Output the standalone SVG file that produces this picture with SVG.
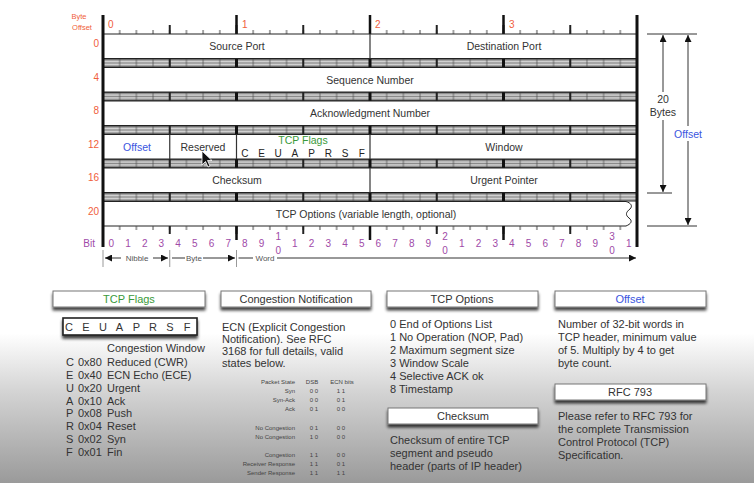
<svg xmlns="http://www.w3.org/2000/svg" width="754" height="483" viewBox="0 0 754 483">
<style>
text{font-family:"Liberation Sans",Arial,sans-serif;}
.fld{font-size:10.5px;fill:#333;text-anchor:middle;}
.off{font-size:10px;fill:#f0603c;text-anchor:end;}
.bytel{font-size:10px;fill:#f0603c;}
.bit{font-size:10px;fill:#a04aa8;text-anchor:middle;}
.unit{font-size:8px;fill:#555;text-anchor:middle;}
.hdr{font-size:11px;fill:#333;text-anchor:middle;}
.body{font-size:11px;fill:#333;}
.tb{font-size:6px;fill:#444;}
.tr{text-anchor:end;}
.tc{text-anchor:middle;}
.row{fill:#fff;stroke:#222;stroke-width:1;}
.div{stroke:#333;stroke-width:1.2;}
.edge{stroke:#111;stroke-width:3;}
.byteln{stroke:#111;stroke-width:2.5;}
.dim{stroke:#333;stroke-width:1;fill:none;}
.hbox{fill:#fff;stroke:#777;stroke-width:1;}
</style>
<defs>
<linearGradient id="bg" x1="0" y1="0" x2="0" y2="1">
<stop offset="0" stop-color="#fff"/><stop offset="0.69" stop-color="#fff"/><stop offset="0.81" stop-color="#d4d4d4"/><stop offset="1" stop-color="#9a9a9a"/>
</linearGradient>
<linearGradient id="bandg" x1="0" y1="0" x2="0" y2="1">
<stop offset="0" stop-color="#222"/><stop offset="0.15" stop-color="#888"/><stop offset="0.35" stop-color="#d8d8d8"/><stop offset="0.5" stop-color="#8a8a8a"/><stop offset="0.65" stop-color="#d8d8d8"/><stop offset="0.85" stop-color="#888"/><stop offset="1" stop-color="#222"/>
</linearGradient>
<pattern id="bitT" x="103" y="0" width="16.6875" height="483" patternUnits="userSpaceOnUse"><rect x="-0.5" y="0" width="1" height="483" fill="#444"/><rect x="16.1875" y="0" width="1" height="483" fill="#444"/></pattern>
<pattern id="nibT" x="103" y="0" width="66.75" height="483" patternUnits="userSpaceOnUse"><rect x="-1" y="0" width="2" height="483" fill="#222"/><rect x="65.75" y="0" width="2" height="483" fill="#222"/></pattern>
<g id="band">
<rect x="103" y="0" width="534" height="9" fill="url(#bandg)"/>
<rect x="103" y="0" width="534" height="9" fill="url(#bitT)" opacity="0.7"/>
<rect x="103" y="0" width="534" height="9" fill="url(#nibT)"/>
<path d="M236.5 0v9M370 0v9M503.5 0v9" stroke="#111" stroke-width="3"/>
</g>
<marker id="ah" viewBox="0 0 10 10" refX="10" refY="5" markerWidth="7" markerHeight="7" orient="auto-start-reverse" markerUnits="userSpaceOnUse"><path d="M0 0L10 5L0 10z" fill="#111"/></marker>
<filter id="sh" x="-5%" y="-40%" width="110%" height="220%">
<feGaussianBlur in="SourceAlpha" stdDeviation="1.6"/><feOffset dy="2.5"/>
<feComponentTransfer><feFuncA type="linear" slope="0.75"/></feComponentTransfer>
<feMerge><feMergeNode/><feMergeNode in="SourceGraphic"/></feMerge>
</filter>
</defs>
<rect x="0" y="0" width="754" height="483" fill="url(#bg)"/>

<g id="ruler-top">
<text x="79" y="19" style="font-size:7.5px;fill:#f0603c;text-anchor:middle">Byte</text>
<text x="82" y="30" style="font-size:7.5px;fill:#f0603c;text-anchor:middle">Offset</text>
<rect x="103" y="30" width="534" height="4" fill="url(#bitT)"/>
<rect x="103" y="25" width="534" height="9" fill="url(#nibT)"/>
<path class="byteln" d="M236.5 15v19M370 15v19M503.5 15v19"/>
<text class="bytel" x="108" y="28">0</text>
<text class="bytel" x="242" y="28">1</text>
<text class="bytel" x="375" y="28">2</text>
<text class="bytel" x="509" y="28">3</text>
</g>

<g id="offsets">
<text class="off" x="99" y="47">0</text>
<text class="off" x="99" y="80.5">4</text>
<text class="off" x="99" y="114">8</text>
<text class="off" x="99" y="147.5">12</text>
<text class="off" x="99" y="181">16</text>
<text class="off" x="99" y="214.5">20</text>
</g>

<g id="bands">
<use href="#band" y="58.5"/>
<use href="#band" y="92"/>
<use href="#band" y="125.5"/>
<use href="#band" y="159"/>
<use href="#band" y="192.5"/>
</g>

<g id="row0">
<rect class="row" x="103" y="34" width="534" height="24.5"/>
<line class="div" x1="370" y1="34" x2="370" y2="58.5"/>
<text class="fld" x="237" y="50">Source Port</text>
<text class="fld" x="504" y="50">Destination Port</text>
</g>
<g id="row4">
<rect class="row" x="103" y="67.5" width="534" height="24.5"/>
<text class="fld" x="370" y="83.5">Sequence Number</text>
</g>
<g id="row8">
<rect class="row" x="103" y="101" width="534" height="24.5"/>
<text class="fld" x="370" y="117">Acknowledgment Number</text>
</g>
<g id="row12">
<rect class="row" x="103" y="134.5" width="534" height="24.5"/>
<path class="div" d="M169.75 134.5v24.5M236.5 134.5v24.5M370 134.5v24.5"/>
<text class="fld" x="137" y="150.5" style="fill:#3a55e0">Offset</text>
<text class="fld" x="203" y="150.5">Reserved</text>
<text class="fld" x="303" y="144" style="fill:#3a9a3a">TCP Flags</text>
<g class="fld" style="font-size:10px;fill:#222">
<text x="244.8" y="157">C</text><text x="261.5" y="157">E</text><text x="278.2" y="157">U</text><text x="294.9" y="157">A</text><text x="311.6" y="157">P</text><text x="328.3" y="157">R</text><text x="345" y="157">S</text><text x="361.7" y="157">F</text>
</g>
<text class="fld" x="504" y="150.5">Window</text>
</g>
<g id="row16">
<rect class="row" x="103" y="168" width="534" height="24.5"/>
<line class="div" x1="370" y1="168" x2="370" y2="192.5"/>
<text class="fld" x="237" y="184">Checksum</text>
<text class="fld" x="504" y="184">Urgent Pointer</text>
</g>
<g id="row20">
<path d="M103 201.5H626C631 203 633 206 630 209C626 212 625 215 629 218C633 221 631 224 626 226H103z" fill="#fff" stroke="#222" stroke-width="1"/>
<text class="fld" x="366" y="217.5">TCP Options (variable length, optional)</text>
</g>

<g id="ruler-bottom">
<rect x="103" y="226" width="534" height="4" fill="url(#bitT)"/>
<rect x="103" y="226" width="534" height="8" fill="url(#nibT)"/>
<path class="byteln" d="M236.5 226v14M370 226v14M503.5 226v14"/>
<text x="95" y="247" style="font-size:10px;fill:#a04aa8;text-anchor:end">Bit</text>
<g class="bit">
<text x="111.3" y="247">0</text><text x="128" y="247">1</text><text x="144.7" y="247">2</text><text x="161.4" y="247">3</text><text x="178.1" y="247">4</text><text x="194.8" y="247">5</text><text x="211.5" y="247">6</text><text x="228.2" y="247">7</text>
<text x="244.8" y="247">8</text><text x="261.5" y="247">9</text><text x="278.2" y="240">1</text><text x="278.2" y="254">0</text><text x="294.9" y="247">1</text><text x="311.6" y="247">2</text><text x="328.3" y="247">3</text><text x="345" y="247">4</text><text x="361.7" y="247">5</text>
<text x="378.3" y="247">6</text><text x="395" y="247">7</text><text x="411.7" y="247">8</text><text x="428.4" y="247">9</text><text x="445.1" y="240">2</text><text x="445.1" y="254">0</text><text x="461.8" y="247">1</text><text x="478.5" y="247">2</text><text x="495.2" y="247">3</text>
<text x="511.8" y="247">4</text><text x="528.5" y="247">5</text><text x="545.2" y="247">6</text><text x="561.9" y="247">7</text><text x="578.6" y="247">8</text><text x="595.3" y="247">9</text><text x="612" y="240">3</text><text x="612" y="254">0</text><text x="628.7" y="247">1</text>
</g>
</g>

<g id="edges">
<path class="edge" d="M103 15V247M637 15V247"/>
</g>

<g id="connectors">
<path d="M103 250v17M169.75 250v17M236.5 250v17" stroke="#999" stroke-width="1"/>
<line class="dim" x1="105" y1="258" x2="121" y2="258" marker-start="url(#ah)"/>
<line class="dim" x1="153" y1="258" x2="168" y2="258" marker-end="url(#ah)"/>
<line class="dim" x1="172" y1="258" x2="185" y2="258"/>
<line class="dim" x1="203" y1="258" x2="235" y2="258" marker-end="url(#ah)"/>
<line class="dim" x1="238.5" y1="258" x2="253" y2="258"/>
<line class="dim" x1="277" y1="258" x2="636" y2="258" marker-end="url(#ah)"/>
<text class="unit" x="137" y="261">Nibble</text>
<text class="unit" x="194" y="261">Byte</text>
<text class="unit" x="265" y="261">Word</text>

<path class="dim" d="M647 34H697M647 193H672M647 226H697"/>
<line class="dim" x1="663" y1="92" x2="663" y2="35" marker-end="url(#ah)"/>
<line class="dim" x1="663" y1="120" x2="663" y2="192" marker-end="url(#ah)"/>
<line class="dim" x1="688" y1="126" x2="688" y2="35" marker-end="url(#ah)"/>
<line class="dim" x1="688" y1="141" x2="688" y2="225" marker-end="url(#ah)"/>
<text x="663" y="103" style="font-size:10.5px;fill:#333;text-anchor:middle">20</text>
<text x="663" y="116" style="font-size:10.5px;fill:#333;text-anchor:middle">Bytes</text>
<text x="688" y="138" style="font-size:10.5px;fill:#3a55e0;text-anchor:middle">Offset</text>
</g>

<g id="cursor">
<path d="M202 151V165L205.5 161.5L208 167L210 166L207.5 160.5H212z" fill="#111" stroke="#fff" stroke-width="0.8"/>
</g>

<g id="panel-flags">
<rect class="hbox" x="53" y="291" width="152" height="16" filter="url(#sh)"/>
<text class="hdr" x="129" y="303" style="fill:#3a9a3a">TCP Flags</text>
<rect x="63" y="318" width="134" height="17" fill="#fff" stroke="#222" stroke-width="1.6" filter="url(#sh)"/>
<g class="body tc" style="font-size:11px">
<text x="69" y="331">C</text><text x="86" y="331">E</text><text x="103" y="331">U</text><text x="119.5" y="331">A</text><text x="136.5" y="331">P</text><text x="153" y="331">R</text><text x="170" y="331">S</text><text x="187" y="331">F</text>
</g>
<text class="body" x="107" y="352">Congestion Window</text>
<g class="body">
<text x="66" y="366">C</text><text x="78" y="366">0x80</text><text x="107" y="366">Reduced (CWR)</text>
<text x="66" y="379">E</text><text x="78" y="379">0x40</text><text x="107" y="379">ECN Echo (ECE)</text>
<text x="66" y="392">U</text><text x="78" y="392">0x20</text><text x="107" y="392">Urgent</text>
<text x="66" y="405">A</text><text x="78" y="405">0x10</text><text x="107" y="405">Ack</text>
<text x="66" y="417">P</text><text x="78" y="417">0x08</text><text x="107" y="417">Push</text>
<text x="66" y="430">R</text><text x="78" y="430">0x04</text><text x="107" y="430">Reset</text>
<text x="66" y="443">S</text><text x="78" y="443">0x02</text><text x="107" y="443">Syn</text>
<text x="66" y="456">F</text><text x="78" y="456">0x01</text><text x="107" y="456">Fin</text>
</g>
</g>

<g id="panel-ecn">
<rect class="hbox" x="221" y="291" width="150" height="16" filter="url(#sh)"/>
<text class="hdr" x="296" y="303">Congestion Notification</text>
<g class="body">
<text x="222" y="331">ECN (Explicit Congestion</text>
<text x="222" y="343">Notification).  See RFC</text>
<text x="222" y="355">3168 for full details, valid</text>
<text x="222" y="367">states below.</text>
</g>
<g class="tb">
<text class="tr" x="295" y="384">Packet State</text><text class="tc" x="312" y="384">DSB</text><text class="tc" x="342" y="384">ECN bits</text>
<text class="tr" x="295" y="392.5">Syn</text><text class="tc" x="314" y="392.5">0 0</text><text class="tc" x="341" y="392.5">1 1</text>
<text class="tr" x="295" y="401.5">Syn-Ack</text><text class="tc" x="314" y="401.5">0 0</text><text class="tc" x="341" y="401.5">0 1</text>
<text class="tr" x="295" y="410.5">Ack</text><text class="tc" x="314" y="410.5">0 1</text><text class="tc" x="341" y="410.5">0 0</text>
<text class="tr" x="295" y="430">No Congestion</text><text class="tc" x="314" y="430">0 1</text><text class="tc" x="341" y="430">0 0</text>
<text class="tr" x="295" y="438.5">No Congestion</text><text class="tc" x="314" y="438.5">1 0</text><text class="tc" x="341" y="438.5">0 0</text>
<text class="tr" x="295" y="457">Congestion</text><text class="tc" x="314" y="457">1 1</text><text class="tc" x="341" y="457">0 0</text>
<text class="tr" x="295" y="466">Receiver Response</text><text class="tc" x="314" y="466">1 1</text><text class="tc" x="341" y="466">0 1</text>
<text class="tr" x="295" y="475">Sender Response</text><text class="tc" x="314" y="475">1 1</text><text class="tc" x="341" y="475">1 1</text>
</g>
</g>

<g id="panel-options">
<rect class="hbox" x="387" y="291" width="151" height="16" filter="url(#sh)"/>
<text class="hdr" x="462" y="303">TCP Options</text>
<g class="body">
<text x="390" y="328">0 End of Options List</text>
<text x="390" y="341">1 No Operation (NOP, Pad)</text>
<text x="390" y="354">2 Maximum segment size</text>
<text x="390" y="367">3 Window Scale</text>
<text x="390" y="380">4 Selective ACK ok</text>
<text x="390" y="393">8 Timestamp</text>
</g>
</g>

<g id="panel-checksum">
<rect class="hbox" x="388" y="408" width="150" height="16" filter="url(#sh)"/>
<text class="hdr" x="463" y="420">Checksum</text>
<g class="body">
<text x="390" y="444">Checksum of entire TCP</text>
<text x="390" y="457">segment and pseudo</text>
<text x="390" y="470">header (parts of IP header)</text>
</g>
</g>

<g id="panel-offset">
<rect class="hbox" x="555" y="291" width="151" height="16" filter="url(#sh)"/>
<text class="hdr" x="630" y="303" style="fill:#3a55e0">Offset</text>
<g class="body">
<text x="558" y="328">Number of 32-bit words in</text>
<text x="558" y="341">TCP header, minimum value</text>
<text x="558" y="354">of 5.  Multiply by 4 to get</text>
<text x="558" y="367">byte count.</text>
</g>
</g>

<g id="panel-rfc">
<rect class="hbox" x="555" y="384" width="151" height="16" filter="url(#sh)"/>
<text class="hdr" x="630" y="396">RFC 793</text>
<g class="body">
<text x="558" y="420">Please refer to RFC 793 for</text>
<text x="558" y="433">the complete Transmission</text>
<text x="558" y="446">Control Protocol (TCP)</text>
<text x="558" y="459">Specification.</text>
</g>
</g>
</svg>
